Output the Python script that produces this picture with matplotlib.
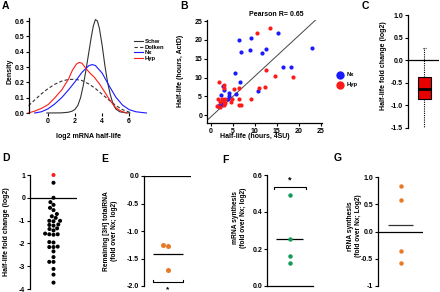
import matplotlib
matplotlib.use("Agg")
import numpy as np
import matplotlib.pyplot as plt
from matplotlib.ticker import FormatStrFormatter
import seaborn as sns

# ── data ────────────────────────────────────────────
# A: density curves of log2 mRNA half-life
schw_x = [-0.1, 1.0, 1.5, 1.8, 2.0, 2.2, 2.4, 2.6, 2.8, 3.0, 3.2, 3.35, 3.5, 3.65,
          3.8, 4.0, 4.2, 4.4, 4.6, 4.8, 5.0, 5.3, 5.7, 6.05]
schw_y = [0, 0.001, 0.005, 0.013, 0.025, 0.05, 0.1, 0.18, 0.28, 0.39, 0.50, 0.57,
          0.61, 0.60, 0.55, 0.44, 0.31, 0.20, 0.12, 0.06, 0.027, 0.008, 0.002, 0]
dolk_x = [-1.45, -1.0, -0.5, 0, 0.5, 1.0, 1.5, 2.0, 2.5, 3.0, 3.5, 4.0, 4.5, 5.0, 5.5, 6.05]
dolk_y = [0.048, 0.085, 0.125, 0.16, 0.188, 0.208, 0.219, 0.22, 0.212, 0.19, 0.16,
          0.122, 0.085, 0.05, 0.022, 0.004]
nx_dx = [-1.0, -0.5, 0, 0.5, 1.0, 1.5, 2.0, 2.5, 3.0, 3.25, 3.5, 4.0, 4.5, 5.0, 5.5,
         6.0, 6.5, 7.28]
nx_dy = [0, 0.008, 0.028, 0.06, 0.1, 0.15, 0.205, 0.265, 0.308, 0.316, 0.31, 0.26,
         0.18, 0.105, 0.052, 0.022, 0.008, 0]
hyp_dx = [-1.48, -1.0, -0.5, 0, 0.5, 1.0, 1.5, 1.8, 2.1, 2.3, 2.5, 2.8, 3.1, 3.4,
          3.8, 4.2, 4.6, 5.0, 5.4, 5.8]
hyp_dy = [0, 0.012, 0.03, 0.055, 0.1, 0.15, 0.22, 0.28, 0.32, 0.33, 0.325, 0.29,
          0.26, 0.235, 0.19, 0.135, 0.08, 0.035, 0.012, 0]

# B: half-life 4SU vs ActD
nx_4su = [6.3, 9.1, 15.2, 22.9, 6.8, 8.9, 11.7, 12.6, 5.5, 6.6, 16.4, 18.3, 10.6,
          2.7, 2.9, 4.2, 2.2, 4.1, 5.7, 3.9, 2.3, 2.0, 1.8, 2.4, 1.5]
nx_actd = [20.1, 20.5, 21.9, 17.9, 16.9, 17.2, 16.4, 17.6, 11.3, 8.7, 12.7, 12.9, 6.3,
           7.8, 6.6, 5.9, 5.3, 5.1, 5.7, 4.2, 3.1, 2.7, 2.4, 2.8, 2.5]
hyp_4su = [10.5, 13.5, 12.6, 14.5, 18.7, 1.9, 3.0, 3.0, 6.3, 5.3, 11.0, 12.2, 1.7,
           2.0, 2.6, 3.0, 3.3, 4.6, 4.7, 6.4, 6.4, 6.9, 1.4, 2.1, 3.0, 9.0, 3.3]
hyp_actd = [21.9, 23.3, 12.1, 10.5, 10.2, 8.9, 7.9, 7.1, 7.3, 6.9, 7.2, 7.5, 4.4,
            3.5, 4.3, 3.7, 3.1, 3.5, 4.4, 4.2, 2.8, 2.7, 2.5, 2.2, 2.8, 4.2, 4.3]
diag_x = [-0.8, 24.0]
diag_y = [-1.3, 25.5]

# C: box of half-life fold change
box_stats = dict(med=-0.63, q1=-0.85, q3=-0.38, whislo=-1.5, whishi=0.28)

# D: half-life fold change per transcript
d_vals = [1.0, 0.66, 0, -0.19, -0.31, -0.44, -0.54, -0.71, -0.81, -0.88, -1.01, -1.01,
          -1.03, -1.19, -1.22, -1.17, -1.43, -1.37, -1.34, -1.57, -1.60, -1.60, -1.62,
          -1.96, -1.94, -2.16, -2.16, -2.14, -2.35, -2.60, -2.81, -2.81, -3.12, -3.37, -3.72]
d_group = ["hi"] + ["lo"] * (len(d_vals) - 1)

# E, F, G: replicate values
e_vals = [-1.25, -1.28, -1.70]
f_vals = [0.49, 0.252, 0.162, 0.123]
g_vals = [0.83, 0.57, -0.35, -0.58]

BLUE, RED = "#1a1aff", "#ff1a1a"
ORANGE, GREEN = "#e67a26", "#149a5a"

plt.rcParams.update({
    "font.family": ["Liberation Sans", "DejaVu Sans"],
    "font.weight": "bold", "axes.labelweight": "bold", "font.size": 5,
    "axes.unicode_minus": False, "axes.linewidth": 0.9,
    "xtick.major.width": 0.8, "ytick.major.width": 0.8,
    "xtick.major.size": 2, "ytick.major.size": 2,
    "xtick.major.pad": 1.5, "ytick.major.pad": 1.5,
    "xtick.labelsize": 5, "ytick.labelsize": 5,
})

W, H = 440, 292
fig = plt.figure(figsize=(W / 100, H / 100), dpi=100)


def panel(l, t, r, b):
    ax = fig.add_axes([l / W, 1 - b / H, (r - l) / W, (b - t) / H])
    ax.spines[["top", "right"]].set_visible(False)
    ax.patch.set_alpha(0)
    return ax


def no_x(ax):
    ax.spines["bottom"].set_visible(False)
    ax.set_xticks([])
    ax.set_xlabel("")
    ax.set_ylabel("")


def ftext(x, y, s, rot=0, size=5):
    fig.text(x / W, 1 - y / H, s, rotation=rot, ha="center", va="center",
             fontsize=size, fontweight="bold", multialignment="center")


# ── A ───────────────────────────────────────────────
axA = panel(29, 18, 147, 113)
axA.plot(schw_x, schw_y, color="#333333", lw=0.8, label="Schw")
axA.plot(dolk_x, dolk_y, color="#333333", lw=0.8, ls=(0, (3, 2)), label="Dolken")
axA.plot(nx_dx, nx_dy, color=BLUE, lw=0.8, label="Nx")
axA.plot(hyp_dx, hyp_dy, color=RED, lw=0.8, label="Hyp")
axA.set_xlim(-1.42, 7.32)
axA.set_ylim(0, 0.62)
axA.spines["bottom"].set_visible(False)
axA.set_xticks([0, 2, 4, 6])
axA.set_yticks(np.arange(0, 0.61, 0.1))
axA.yaxis.set_major_formatter(FormatStrFormatter("%.1f"))
for ln in axA.lines:
    ln.set_clip_on(False)
axA.legend(frameon=False, loc="upper left", bbox_to_anchor=(134 / W, 1 - 39 / H),
           bbox_transform=fig.transFigure, fontsize=4.2, handlelength=1.55,
           handletextpad=0.35, labelspacing=0.1, borderpad=0, borderaxespad=0)
ftext(10, 71, "Density", rot=90)
ftext(88, 137, "log2 mRNA half-life")
ftext(5, 6, "A", size=7.5)

# ── B ───────────────────────────────────────────────
axB = panel(207, 20, 321.7, 123)
axB.plot(diag_x, diag_y, color="#444444", lw=0.7)
axB.scatter(nx_4su, nx_actd, s=9, color=BLUE, lw=0, zorder=3, label="Nx")
axB.scatter(hyp_4su, hyp_actd, s=9, color=RED, lw=0, zorder=3, label="Hyp")
axB.set_xlim(-0.9, 25.2)
axB.set_ylim(-2.1, 25.3)
axB.set_xticks(range(0, 26, 5))
axB.set_yticks(range(0, 26, 5))
axB.legend(frameon=False, loc="upper left", bbox_to_anchor=(337 / W, 1 - 72 / H),
           bbox_transform=fig.transFigure, fontsize=4.2, markerscale=2.0,
           handlelength=1.0, handletextpad=0.6, labelspacing=0.9, borderpad=0,
           borderaxespad=0)
ftext(276, 15, "Pearson R= 0.65")
ftext(180, 71, "Half-life (hours, ActD)", rot=90)
ftext(255, 137, "Half-life (hours, 4SU)")
ftext(184, 6, "B", size=7.5)

# ── C ───────────────────────────────────────────────
axC = panel(408, 15, 439, 128)
axC.axhline(0, color="black", lw=0.9)
axC.bxp([box_stats], positions=[0.53], widths=0.42, showfliers=False, patch_artist=True,
        capwidths=0.12,
        boxprops=dict(facecolor="#e60000", edgecolor="black", lw=0.8),
        medianprops=dict(color="black", lw=2.0),
        whiskerprops=dict(color="black", lw=0.8, ls=(0, (1, 1))),
        capprops=dict(color="black", lw=0.8, ls=(0, (1, 1))))
axC.set_xlim(0, 1)
axC.set_ylim(-1.5, 1.0)
axC.set_yticks(np.arange(-1.5, 1.01, 0.5))
axC.yaxis.set_major_formatter(FormatStrFormatter("%.1f"))
no_x(axC)
ftext(383, 66, "Half-life fold change (log2)", rot=90)
ftext(365, 6, "C", size=7.5)

# ── D ───────────────────────────────────────────────
axD = panel(30, 175, 77, 289)
axD.axhline(0, color="black", lw=0.9)
sns.swarmplot(y=d_vals, hue=d_group, palette={"hi": RED, "lo": "black"}, size=2.9,
              legend=False, ax=axD)
axD.set_xlim(-1, 1)
axD.set_ylim(-4, 1)
axD.set_yticks(range(-4, 2))
no_x(axD)
for c in axD.collections:
    c.set_clip_on(False)
ftext(7, 232, "Half-life fold change (log2)", rot=90)
ftext(6, 158, "D", size=7.5)

# ── E ───────────────────────────────────────────────
axE = panel(144, 176, 191, 286)
axE.axhline(0, color="black", lw=0.9)
sns.swarmplot(y=e_vals, color=ORANGE, size=3.6, ax=axE)
axE.hlines(np.mean(e_vals), -0.63, 0.65, color="black", lw=0.9)
axE.plot([-0.63, -0.63, 0.67, 0.67], [-1.89, -1.92, -1.92, -1.89], color="black",
         lw=0.8, clip_on=False)
axE.text(0, -2.06, "*", ha="center", va="center", fontsize=6, clip_on=False)
axE.set_xlim(-1, 1)
axE.set_ylim(-2, 0)
axE.set_yticks(np.arange(-2, 0.01, 0.5))
axE.yaxis.set_major_formatter(FormatStrFormatter("%.1f"))
no_x(axE)
ftext(110, 231, "Remaining [3H] totalRNA\n(fold over Nx; log2)", rot=90, size=4.8)
ftext(105, 159, "E", size=7.5)

# ── F ───────────────────────────────────────────────
axF = panel(267, 175, 313, 286)
sns.swarmplot(y=f_vals, color=GREEN, size=3.2, ax=axF)
axF.hlines(np.mean(f_vals), -0.61, 0.57, color="black", lw=0.9)
axF.plot([-0.70, -0.70, 0.70, 0.70], [0.525, 0.537, 0.537, 0.525], color="black",
         lw=0.8, clip_on=False)
axF.text(0, 0.575, "*", ha="center", va="center", fontsize=6.5)
axF.set_xlim(-1, 1)
axF.set_ylim(0, 0.6)
axF.set_yticks(np.arange(0, 0.61, 0.2))
axF.yaxis.set_major_formatter(FormatStrFormatter("%.1f"))
axF.set_xticks([])
axF.set_xlabel("")
ftext(239, 218, "mRNA synthesis\n(fold over Nx; log2)", rot=90, size=4.8)
ftext(225, 160, "F", size=7.5)

# ── G ───────────────────────────────────────────────
axG = panel(378, 177, 423, 286)
axG.axhline(0, color="black", lw=0.9)
sns.swarmplot(y=g_vals, color=ORANGE, size=3.2, ax=axG)
axG.hlines(np.mean(g_vals), -0.56, 0.56, color="#333333", lw=0.9)
axG.set_xlim(-1, 1)
axG.set_ylim(-1, 1)
axG.set_yticks([-1, -0.5, 0, 0.5, 1])
axG.set_yticklabels(["-1", "-0.5", "0.0", "0.5", "1.0"])
no_x(axG)
ftext(354, 226, "rRNA synthesis\n(fold over Nx; Log2)", rot=90, size=4.8)
ftext(338, 158, "G", size=7.5)

fig.savefig("out.png", dpi=100)
